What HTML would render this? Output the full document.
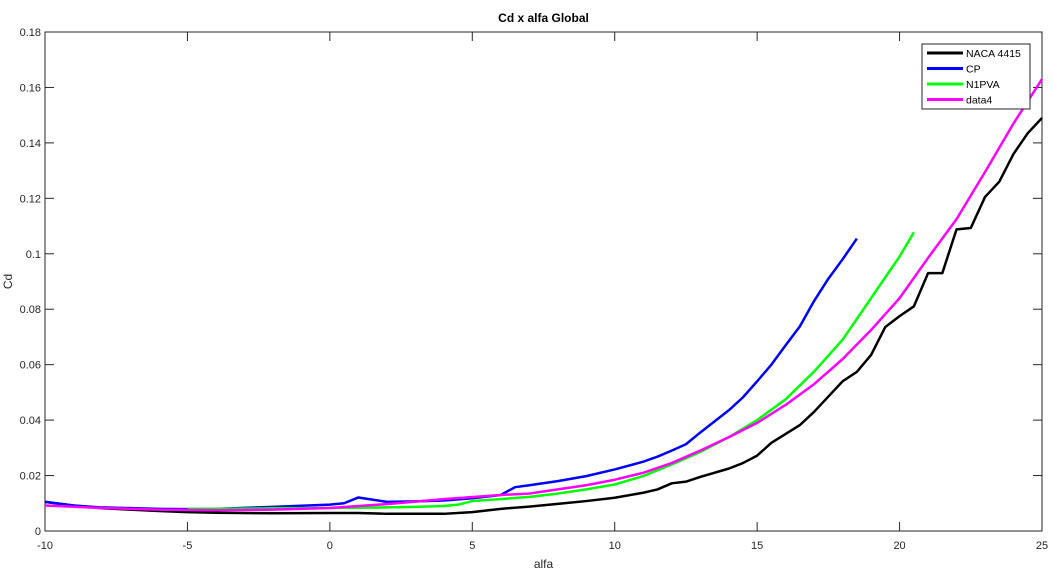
<!DOCTYPE html>
<html><head><meta charset="utf-8"><style>
body{margin:0;background:#fff;}
svg{display:block;font-family:"Liberation Sans",Arial,sans-serif;}
</style></head><body>
<svg id="chart" width="1053" height="571"></svg>
<script>
const naX=[-10,-9,-8,-6,-5,-4,-2,0,1,2,3,4,5,6,7,8,9,10,11,11.5,12,12.5,13,14,14.5,15,15.5,16,16.5,17,17.5,18,18.5,19,19.5,20,20.5,21,21.5,22,22.5,23,23.5,24,24.5,25];
const naY=[0.0105,0.0092,0.0082,0.0072,0.0068,0.0066,0.0064,0.0065,0.0065,0.0062,0.0062,0.0062,0.0068,0.008,0.0088,0.0098,0.0108,0.012,0.0138,0.015,0.0172,0.0178,0.0195,0.0225,0.0245,0.0272,0.0318,0.035,0.0382,0.043,0.0485,0.054,0.0574,0.0635,0.0736,0.0775,0.081,0.093,0.093,0.1088,0.1093,0.1205,0.126,0.136,0.1435,0.149];
const cpX=[-10,-9,-8,-6,-5,-4,-2,0,0.5,1,2,3,4,5,6,6.5,7,8,9,10,11,11.5,12,12.5,13,14,14.5,15,15.5,16,16.5,17,17.5,18,18.5];
const cpY=[0.0105,0.0092,0.0085,0.008,0.0079,0.008,0.0087,0.0095,0.01,0.0121,0.0105,0.0107,0.011,0.0118,0.013,0.0158,0.0165,0.018,0.0198,0.0222,0.025,0.0268,0.029,0.0313,0.0355,0.0435,0.0482,0.054,0.06,0.067,0.0738,0.083,0.091,0.098,0.1055];
const gX=[-5,-4,-2,0,2,3,4,4.5,5,6,7,8,9,10,11,12,13,14,15,16,17,18,19,20,20.5];
const gY=[0.008,0.008,0.0082,0.0083,0.0085,0.0087,0.009,0.0095,0.0108,0.0115,0.0123,0.0135,0.015,0.0168,0.0198,0.024,0.0285,0.0338,0.04,0.0475,0.0575,0.069,0.084,0.099,0.1077];
const mX=[-10,-8,-6,-4,-2,0,2,4,6,7,8,9,10,11,12,13,14,15,16,17,18,19,20,21,22,23,24,25];
const mY=[0.0092,0.0083,0.0077,0.0075,0.0077,0.0083,0.0097,0.0115,0.013,0.0135,0.015,0.0165,0.0185,0.021,0.0245,0.029,0.0338,0.039,0.0455,0.053,0.062,0.0725,0.084,0.0985,0.1125,0.1295,0.147,0.163];
const xTicks=[-10,-5,0,5,10,15,20,25];
const yTicks=[0,0.02,0.04,0.06,0.08,0.1,0.12,0.14,0.16,0.18];
const yLabels=["0","0.02","0.04","0.06","0.08","0.1","0.12","0.14","0.16","0.18"];
const seriesNames=["NACA 4415","CP","N1PVA","data4"];
const seriesColors=["#000000","#0000ff","#00ff00","#ff00ff"];

const L=45,R=1042,T=32,B=531;
const sx=v=>L+(v+10)/35*(R-L);
const sy=v=>B-v/0.18*(B-T);
const svg=document.getElementById('chart');
const NS='http://www.w3.org/2000/svg';
function mk(tag,attrs,parent){const e=document.createElementNS(NS,tag);for(const k in attrs)e.setAttribute(k,attrs[k]);(parent||svg).appendChild(e);return e;}

const frame=mk('rect',{x:L,y:T,width:R-L,height:B-T,fill:'#fff',stroke:'#262626','stroke-width':1});



xTicks.forEach(v=>{
  const x=sx(v);
  mk('line',{x1:x,y1:B,x2:x,y2:B-9,stroke:'#262626'});
  mk('line',{x1:x,y1:T,x2:x,y2:T+9,stroke:'#262626'});
  const t=mk('text',{x:x,y:B+18,'text-anchor':'middle','font-size':11,fill:'#262626'});
  t.textContent=v;
  
  
});
yTicks.forEach((v,i)=>{
  const y=sy(v);
  mk('line',{x1:L,y1:y,x2:L+9,y2:y,stroke:'#262626'});
  mk('line',{x1:R,y1:y,x2:R-9,y2:y,stroke:'#262626'});
  const t=mk('text',{x:L-4,y:y+4,'text-anchor':'end','font-size':11,fill:'#262626'});
  t.textContent=yLabels[i];
  
  
});

const data=[[naX,naY],[cpX,cpY],[gX,gY],[mX,mY]];
[0,1,2,3].forEach(i=>{
  const [xs,ys]=data[i];
  const p=mk('polyline',{points:xs.map((x,j)=>sx(x)+','+sy(ys[j])).join(' '),fill:'none',stroke:seriesColors[i],'stroke-width':2.5,'stroke-linejoin':'round'});
  
  
});

const title=mk('text',{x:(L+R)/2,y:22,'text-anchor':'middle','font-size':12,'font-weight':'bold',fill:'#000'});
title.textContent='Cd x alfa Global';


const xl=mk('text',{x:(L+R)/2,y:568,'text-anchor':'middle','font-size':12,fill:'#262626'});
xl.textContent='alfa';


const yl=mk('text',{x:12,y:(T+B)/2,'text-anchor':'middle','font-size':12,fill:'#262626',transform:'rotate(-90 12 '+((T+B)/2)+')'});
yl.textContent='Cd';



const lg=mk('g',{});


mk('rect',{x:922,y:44,width:108,height:65,fill:'#fff',stroke:'#262626','stroke-width':1},lg);
seriesNames.forEach((n,i)=>{
  const y=53+i*15.5;
  const e=mk('g',{},lg);
  
  
  mk('line',{x1:927,y1:y,x2:963,y2:y,stroke:seriesColors[i],'stroke-width':3},e);
  const t=mk('text',{x:966,y:y+4,'font-size':10.5,fill:'#000'},e);
  t.textContent=n;
});
</script>
</body></html>
